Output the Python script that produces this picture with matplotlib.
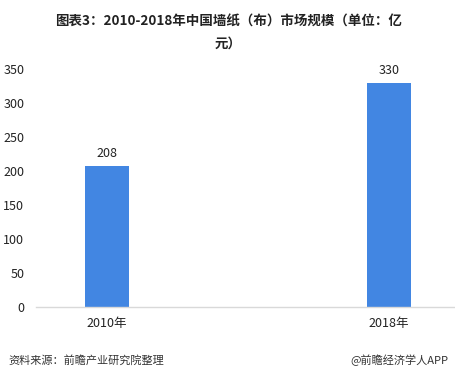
import matplotlib
matplotlib.use('Agg')
import matplotlib.pyplot as plt

years = ['2010年', '2018年']
values = [208, 330]
yticks = [0, 50, 100, 150, 200, 250, 300, 350]

plt.rcParams['font.family'] = ['Noto Sans CJK SC', 'DejaVu Sans']

fig = plt.figure(figsize=(4.56, 3.79), dpi=100)
ax = fig.add_axes([36 / 456, 1 - 307 / 379, 419 / 456, 238 / 379])

x = range(len(years))
bars = ax.bar(x, values, width=0.156, color='#4286E2')
for xi, v in zip(x, values):
    ax.text(xi, v + 8, str(v), ha='center', va='bottom', fontsize=9, color='#222222')

ax.set_xlim(-0.252, 1.234)
ax.set_ylim(0, 350)
ax.set_yticks(yticks)
ax.set_xticks(list(x))
ax.set_xticklabels(years)
ax.tick_params(axis='both', length=0, labelsize=9, colors='#222222')
ax.tick_params(axis='y', pad=8.5)
ax.tick_params(axis='x', pad=7)
for s in ['top', 'right', 'left']:
    ax.spines[s].set_visible(False)
ax.spines['bottom'].set_color('#d9d9d9')
ax.spines['bottom'].set_linewidth(1)

fig.text(0.5, 1 - 22 / 379, '图表3：2010-2018年中国墙纸（布）市场规模（单位：亿', ha='center', va='center',
         fontsize=9.7, fontweight='bold', color='#222222')
fig.text(0.5, 1 - 44 / 379, '元）', ha='center', va='center',
         fontsize=9.7, fontweight='bold', color='#222222')
fig.text(8 / 456, 1 - 360 / 379, '资料来源：前瞻产业研究院整理', ha='left', va='center',
         fontsize=8, style='italic', color='#333333')
fig.text(448 / 456, 1 - 360 / 379, '@前瞻经济学人APP', ha='right', va='center',
         fontsize=8, color='#333333')

plt.savefig('out.png', dpi=100)
